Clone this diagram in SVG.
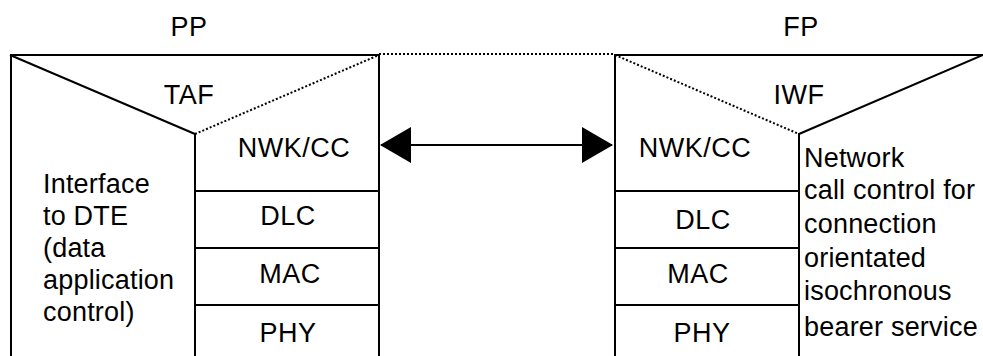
<svg xmlns="http://www.w3.org/2000/svg" width="983" height="356" viewBox="0 0 983 356">
<style>
.ln{fill:none;stroke:#000;stroke-width:2}
.dot{fill:none;stroke:#000;stroke-width:2;stroke-dasharray:2 2}
text{font-family:"Liberation Sans",Arial,sans-serif;font-size:27px;fill:#000}
.c{text-anchor:middle;letter-spacing:0.5px}
.l{letter-spacing:0.2px}
</style>
<defs>
<marker id="ah" markerUnits="userSpaceOnUse" markerWidth="32" markerHeight="36" refX="30" refY="18" orient="auto-start-reverse" viewBox="0 0 32 36">
<path d="M0,0 L31,18 L0,36 z" fill="#000"/>
</marker>
</defs>
<rect width="983" height="356" fill="#fff"/>

<g id="pp">
<text class="c" x="189" y="36">PP</text>
<g id="pp-taf">
<path class="ln" d="M11,356 V55 H379 V356"/>
<path class="ln" d="M10,55 L195,134 V356"/>
<path class="dot" d="M195,134 L379,55"/>
<text class="c" x="189" y="104">TAF</text>
</g>
<g id="pp-dte">
<text class="l" x="43" y="193">Interface</text>
<text class="l" x="43" y="225">to DTE</text>
<text class="l" x="43" y="257">(data</text>
<text class="l" x="43" y="289">application</text>
<text class="l" x="43" y="321">control)</text>
</g>
<g id="pp-nwk">
<text class="c" x="294" y="157">NWK/CC</text>
</g>
<g id="pp-dlc">
<path class="ln" d="M195,191 H380"/>
<text class="c" x="288" y="225">DLC</text>
</g>
<g id="pp-mac">
<path class="ln" d="M195,248 H380"/>
<text class="c" x="290" y="283">MAC</text>
</g>
<g id="pp-phy">
<path class="ln" d="M195,305 H380"/>
<text class="c" x="288" y="342">PHY</text>
</g>
</g>

<g id="fp">
<text class="c" x="801" y="36">FP</text>
<g id="fp-iwf">
<path class="ln" d="M615,356 V55 H983"/>
<path class="ln" d="M983,55 L799,134 V356"/>
<path class="dot" d="M615,55 L799,134"/>
<text class="c" x="799" y="104">IWF</text>
</g>
<g id="fp-nwk">
<text class="c" x="695" y="157">NWK/CC</text>
</g>
<g id="fp-dlc">
<path class="ln" d="M614,191 H799"/>
<text class="c" x="703" y="229">DLC</text>
</g>
<g id="fp-mac">
<path class="ln" d="M614,248 H799"/>
<text class="c" x="698" y="283">MAC</text>
</g>
<g id="fp-phy">
<path class="ln" d="M614,305 H799"/>
<text class="c" x="702" y="342">PHY</text>
</g>
<g id="fp-cc">
<text class="l" x="804" y="167">Network</text>
<text class="l" x="804" y="199">call control for</text>
<text class="l" x="804" y="233">connection</text>
<text class="l" x="804" y="267">orientated</text>
<text class="l" x="804" y="300">isochronous</text>
<text class="l" x="804" y="336">bearer service</text>
</g>
</g>

<g id="connectors">
<path class="dot" d="M379,54 H615"/>
<path class="ln" d="M381,145 H612" marker-start="url(#ah)" marker-end="url(#ah)"/>
</g>
</svg>
